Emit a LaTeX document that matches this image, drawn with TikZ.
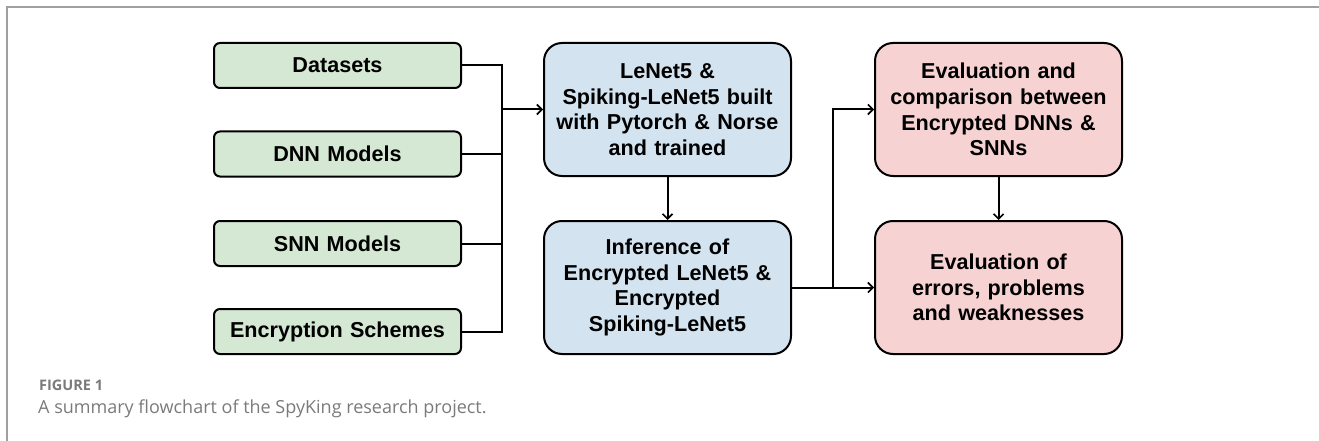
\documentclass[tikz,border=0pt]{standalone}
\usepackage{fontspec}
\setmainfont{Liberation Sans}
\newfontfamily\capfont{Open Sans}
\usetikzlibrary{arrows.meta}
\definecolor{greenfill}{HTML}{D5E8D4}
\definecolor{bluefill}{HTML}{D3E3EF}
\definecolor{pinkfill}{HTML}{F6D3D2}
\definecolor{framegray}{HTML}{A0A0A0}
\definecolor{capgray}{HTML}{7A7A7A}
\tikzset{
  box/.style={draw=black, line width=2pt, align=center, inner sep=0pt,
    font=\fontsize{21.6}{25.6}\selectfont\bfseries, text width=240pt,
    minimum width=247pt},
  inbox/.style={box, fill=greenfill, rounded corners=6pt, minimum height=45pt},
  procbox/.style={box, fill=bluefill, rounded corners=18pt, minimum height=133pt},
  evalbox/.style={box, fill=pinkfill, rounded corners=18pt, minimum height=133pt},
  link/.style={line width=2pt},
  arr/.style={link, -{Straight Barb[length=5pt, width=10pt, line width=1.6pt]}},
  captext/.style={anchor=base west, inner sep=0pt, text=capgray},
}
\begin{document}
\begin{tikzpicture}[x=1pt, y=-1pt]
\useasboundingbox (0,0) rectangle (1319,441);
% page frame
\draw[framegray, line width=2pt] (7,441) -- (7,7) -- (1319,7);

% inputs
\node[inbox] (ds)  at (337.5, 65.5)  {Datasets};
\node[inbox] (dnn) at (337.5, 154)   {DNN Models};
\node[inbox] (snn) at (337.5, 243.5) {SNN Models};
\node[inbox] (enc) at (337.5, 331.5) {Encryption Schemes};

% processing
\node[procbox] (lenet) at (667.5, 109.5) {LeNet5 \&\\Spiking-LeNet5 built\\with Pytorch \& Norse\\and trained};
\node[procbox] (inf)   at (667.5, 287.5) {Inference of\\Encrypted LeNet5 \&\\Encrypted\\Spiking-LeNet5};

% evaluation
\node[evalbox] (ev1) at (998.5, 109.5) {Evaluation and\\comparison between\\Encrypted DNNs \&\\SNNs};
\node[evalbox] (ev2) at (998.5, 287.5) {Evaluation of\\errors, problems\\and weaknesses};

% input bus
\coordinate (bus) at (502, 109.5);
\draw[link] (ds.east) -| (bus);
\draw[link] (enc.east) -| (bus);
\draw[link] (dnn.east) -- (dnn.east -| bus);
\draw[link] (snn.east) -- (snn.east -| bus);
\draw[arr] (bus) -- (lenet.west);

\draw[arr] (lenet.south) -- (inf.north);
\draw[arr] (ev1.south) -- (ev2.north);

% fan-out of inference results
\coordinate (br) at (833, 287.5);
\draw[arr] (inf.east) -- (ev2.west);
\draw[arr] (br) |- (ev1.west);

% caption
\node[captext] (figlabel) at (39, 390) {\capfont\bfseries\fontsize{14.5}{17}\selectfont FIGURE 1};
\node[captext] (caption) at (38, 413) {\capfont\fontsize{18}{20}\selectfont A summary flowchart of the SpyKing research project.};
\end{tikzpicture}
\end{document}
